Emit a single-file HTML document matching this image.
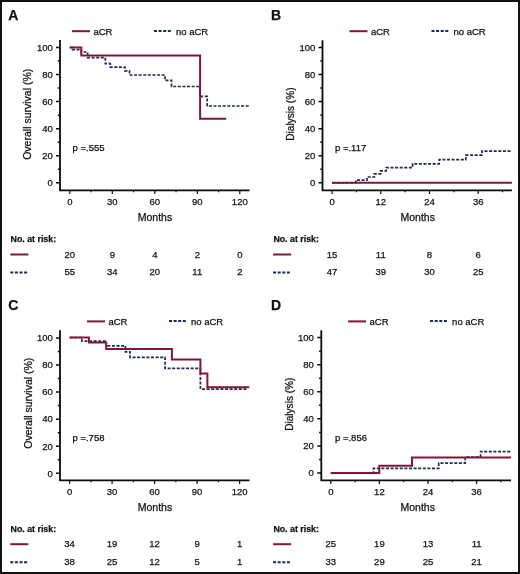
<!DOCTYPE html>
<html><head><meta charset="utf-8"><style>
html,body{margin:0;padding:0;background:#fff;}
body{width:520px;height:574px;overflow:hidden;}
svg{display:block;will-change:transform;}
text{font-family:"Liberation Sans",sans-serif;fill:#111;stroke:#111;stroke-width:0.25px;}
.t{font-size:9.5px;}
.at{font-size:10.5px;}
.pl{font-size:14px;font-weight:bold;fill:#111;}
.nb{font-size:8.8px;font-weight:bold;fill:#111;}
</style></head><body>
<svg width="520" height="574" viewBox="0 0 520 574">
<rect x="0" y="0" width="520" height="574" fill="#fff"/>
<rect x="1" y="1" width="518" height="572" fill="none" stroke="#111" stroke-width="2"/>
<path d="M60,40V190.3H249.5" fill="none" stroke="#0a0a0a" stroke-width="1.8"/>
<path d="M56,182.85H60M57.8,169.31H60M56,155.77H60M57.8,142.23H60M56,128.69H60M57.8,115.15H60M56,101.61H60M57.8,88.07H60M56,74.53H60M57.8,60.99H60M56,47.45H60" stroke="#0a0a0a" stroke-width="1.5"/>
<text x="52.9" y="186.15" text-anchor="end" class="t">0</text>
<text x="52.9" y="159.07" text-anchor="end" class="t">20</text>
<text x="52.9" y="131.99" text-anchor="end" class="t">40</text>
<text x="52.9" y="104.91" text-anchor="end" class="t">60</text>
<text x="52.9" y="77.83" text-anchor="end" class="t">80</text>
<text x="52.9" y="50.75" text-anchor="end" class="t">100</text>
<path d="M69.8,190.3V193.9M91.05,190.3V192.3M112.3,190.3V193.9M133.55,190.3V192.3M154.8,190.3V193.9M176.05,190.3V192.3M197.3,190.3V193.9M218.55,190.3V192.3M239.8,190.3V193.9" stroke="#0a0a0a" stroke-width="1.2"/>
<text x="69.8" y="205.3" text-anchor="middle" class="t">0</text>
<text x="112.3" y="205.3" text-anchor="middle" class="t">30</text>
<text x="154.8" y="205.3" text-anchor="middle" class="t">60</text>
<text x="197.3" y="205.3" text-anchor="middle" class="t">90</text>
<text x="239.8" y="205.3" text-anchor="middle" class="t">120</text>
<text x="155" y="220.6" text-anchor="middle" class="at">Months</text>
<text transform="translate(31.2,114.3) rotate(-90)" text-anchor="middle" class="at" style="font-size:10.5px">Overall survival (%)</text>
<text x="8.2" y="19.6" class="pl">A</text>
<path d="M72,31.2h18" stroke="#80163a" stroke-width="2"/>
<text x="93.4" y="34.5" class="t">aCR</text>
<path d="M154,30.9h17.6" stroke="#1c2b55" stroke-width="2" stroke-dasharray="3 1.6"/>
<text x="176" y="34.5" class="t">no aCR</text>
<text x="72.6" y="150.7" class="t">p =.555</text>
<path d="M69.8,47.3H72.6V49.7H81.3V52H87.6V57.7H105.3V63.7H110.3V67.2H124.9V70.9H129.5V75H165.1V80.4H171.5V86.5H200V96.4H207.2V106H250" fill="none" stroke="#1c2b55" stroke-width="1.7" stroke-dasharray="3 1.6"/>
<path d="M69.8,47.4H81.3V55.5H200.1V118.8H226.2" fill="none" stroke="#80163a" stroke-width="2"/>
<text x="10.6" y="241.8" class="nb">No. at risk:</text>
<path d="M10.3,254.5h18" stroke="#80163a" stroke-width="2"/>
<path d="M10.3,272.6h17.6" stroke="#1c2b55" stroke-width="2" stroke-dasharray="3 1.6"/>
<text x="69.8" y="257.5" text-anchor="middle" class="t">20</text>
<text x="69.8" y="275.3" text-anchor="middle" class="t">55</text>
<text x="112.3" y="257.5" text-anchor="middle" class="t">9</text>
<text x="112.3" y="275.3" text-anchor="middle" class="t">34</text>
<text x="154.8" y="257.5" text-anchor="middle" class="t">4</text>
<text x="154.8" y="275.3" text-anchor="middle" class="t">20</text>
<text x="197.3" y="257.5" text-anchor="middle" class="t">2</text>
<text x="197.3" y="275.3" text-anchor="middle" class="t">11</text>
<text x="239.8" y="257.5" text-anchor="middle" class="t">0</text>
<text x="239.8" y="275.3" text-anchor="middle" class="t">2</text>
<path d="M322.5,40.3V190.3H511.9" fill="none" stroke="#0a0a0a" stroke-width="1.8"/>
<path d="M318.5,182.8H322.5M320.3,169.26H322.5M318.5,155.72H322.5M320.3,142.18H322.5M318.5,128.64H322.5M320.3,115.1H322.5M318.5,101.56H322.5M320.3,88.02H322.5M318.5,74.48H322.5M320.3,60.94H322.5M318.5,47.4H322.5" stroke="#0a0a0a" stroke-width="1.5"/>
<text x="315.3" y="186.1" text-anchor="end" class="t">0</text>
<text x="315.3" y="159.02" text-anchor="end" class="t">20</text>
<text x="315.3" y="131.94" text-anchor="end" class="t">40</text>
<text x="315.3" y="104.86" text-anchor="end" class="t">60</text>
<text x="315.3" y="77.78" text-anchor="end" class="t">80</text>
<text x="315.3" y="50.7" text-anchor="end" class="t">100</text>
<path d="M332.1,190.3V193.9M356.45,190.3V192.3M380.8,190.3V193.9M405.14,190.3V192.3M429.49,190.3V193.9M453.84,190.3V192.3M478.19,190.3V193.9M502.54,190.3V192.3" stroke="#0a0a0a" stroke-width="1.2"/>
<text x="332.1" y="205.3" text-anchor="middle" class="t">0</text>
<text x="380.8" y="205.3" text-anchor="middle" class="t">12</text>
<text x="429.49" y="205.3" text-anchor="middle" class="t">24</text>
<text x="478.19" y="205.3" text-anchor="middle" class="t">36</text>
<text x="417.7" y="220.6" text-anchor="middle" class="at">Months</text>
<text transform="translate(293.8,114.1) rotate(-90)" text-anchor="middle" class="at" style="font-size:10.1px">Dialysis (%)</text>
<text x="271" y="19.6" class="pl">B</text>
<path d="M349.5,31.2h18" stroke="#80163a" stroke-width="2"/>
<text x="370.9" y="34.5" class="t">aCR</text>
<path d="M431.5,30.9h17.6" stroke="#1c2b55" stroke-width="2" stroke-dasharray="3 1.6"/>
<text x="453.5" y="34.5" class="t">no aCR</text>
<text x="335" y="150.7" class="t">p =.117</text>
<path d="M332.1,182.8H355.8V180.1H367V177H374.3V173.9H380.5V170.8H386.2V167.6H412.6V163.8H439.2V159.7H465.8V155.2H481.9V151.2H511.9" fill="none" stroke="#1c2b55" stroke-width="1.7" stroke-dasharray="3 1.6"/>
<path d="M332.1,182.8H511.9" fill="none" stroke="#80163a" stroke-width="2"/>
<text x="273.4" y="241.8" class="nb">No. at risk:</text>
<path d="M273.1,254.5h18" stroke="#80163a" stroke-width="2"/>
<path d="M273.1,272.6h17.6" stroke="#1c2b55" stroke-width="2" stroke-dasharray="3 1.6"/>
<text x="332.1" y="257.5" text-anchor="middle" class="t">15</text>
<text x="332.1" y="275.3" text-anchor="middle" class="t">47</text>
<text x="380.8" y="257.5" text-anchor="middle" class="t">11</text>
<text x="380.8" y="275.3" text-anchor="middle" class="t">39</text>
<text x="429.49" y="257.5" text-anchor="middle" class="t">8</text>
<text x="429.49" y="275.3" text-anchor="middle" class="t">30</text>
<text x="478.19" y="257.5" text-anchor="middle" class="t">6</text>
<text x="478.19" y="275.3" text-anchor="middle" class="t">25</text>
<path d="M60,330.3V480.3H249.5" fill="none" stroke="#0a0a0a" stroke-width="1.8"/>
<path d="M56,473.3H60M57.8,459.76H60M56,446.22H60M57.8,432.68H60M56,419.14H60M57.8,405.6H60M56,392.06H60M57.8,378.52H60M56,364.98H60M57.8,351.44H60M56,337.9H60" stroke="#0a0a0a" stroke-width="1.5"/>
<text x="52.9" y="476.6" text-anchor="end" class="t">0</text>
<text x="52.9" y="449.52" text-anchor="end" class="t">20</text>
<text x="52.9" y="422.44" text-anchor="end" class="t">40</text>
<text x="52.9" y="395.36" text-anchor="end" class="t">60</text>
<text x="52.9" y="368.28" text-anchor="end" class="t">80</text>
<text x="52.9" y="341.2" text-anchor="end" class="t">100</text>
<path d="M69.6,480.3V483.9M90.85,480.3V482.3M112.1,480.3V483.9M133.35,480.3V482.3M154.6,480.3V483.9M175.85,480.3V482.3M197.1,480.3V483.9M218.35,480.3V482.3M239.6,480.3V483.9" stroke="#0a0a0a" stroke-width="1.2"/>
<text x="69.6" y="495.3" text-anchor="middle" class="t">0</text>
<text x="112.1" y="495.3" text-anchor="middle" class="t">30</text>
<text x="154.6" y="495.3" text-anchor="middle" class="t">60</text>
<text x="197.1" y="495.3" text-anchor="middle" class="t">90</text>
<text x="239.6" y="495.3" text-anchor="middle" class="t">120</text>
<text x="155" y="510.6" text-anchor="middle" class="at">Months</text>
<text transform="translate(31.6,403.2) rotate(-90)" text-anchor="middle" class="at" style="font-size:10.5px">Overall survival (%)</text>
<text x="8.2" y="310.2" class="pl">C</text>
<path d="M87,321.4h18" stroke="#80163a" stroke-width="2"/>
<text x="108.4" y="324.7" class="t">aCR</text>
<path d="M169,321.1h17.6" stroke="#1c2b55" stroke-width="2" stroke-dasharray="3 1.6"/>
<text x="191" y="324.7" class="t">no aCR</text>
<text x="72.5" y="441" class="t">p =.758</text>
<path d="M69.6,337.5H81.8V341.1H106.2V345.8H125.4V351.8H130V357.3H165V368.3H200.4V389.1H247" fill="none" stroke="#1c2b55" stroke-width="1.7" stroke-dasharray="3 1.6"/>
<path d="M69.6,337.5H88.9V342.5H106.2V348.9H171.9V359.4H200.4V373.5H207.4V387.2H249.3" fill="none" stroke="#80163a" stroke-width="2"/>
<text x="10.6" y="531.5" class="nb">No. at risk:</text>
<path d="M10.3,544.2h18" stroke="#80163a" stroke-width="2"/>
<path d="M10.3,562.3h17.6" stroke="#1c2b55" stroke-width="2" stroke-dasharray="3 1.6"/>
<text x="69.6" y="547.2" text-anchor="middle" class="t">34</text>
<text x="69.6" y="565" text-anchor="middle" class="t">38</text>
<text x="112.1" y="547.2" text-anchor="middle" class="t">19</text>
<text x="112.1" y="565" text-anchor="middle" class="t">25</text>
<text x="154.6" y="547.2" text-anchor="middle" class="t">12</text>
<text x="154.6" y="565" text-anchor="middle" class="t">12</text>
<text x="197.1" y="547.2" text-anchor="middle" class="t">9</text>
<text x="197.1" y="565" text-anchor="middle" class="t">5</text>
<text x="239.6" y="547.2" text-anchor="middle" class="t">1</text>
<text x="239.6" y="565" text-anchor="middle" class="t">1</text>
<path d="M321.3,330.3V480.3H511" fill="none" stroke="#0a0a0a" stroke-width="1.8"/>
<path d="M317.3,473H321.3M319.1,459.46H321.3M317.3,445.92H321.3M319.1,432.38H321.3M317.3,418.84H321.3M319.1,405.3H321.3M317.3,391.76H321.3M319.1,378.22H321.3M317.3,364.68H321.3M319.1,351.14H321.3M317.3,337.6H321.3" stroke="#0a0a0a" stroke-width="1.5"/>
<text x="313.8" y="476.3" text-anchor="end" class="t">0</text>
<text x="313.8" y="449.22" text-anchor="end" class="t">20</text>
<text x="313.8" y="422.14" text-anchor="end" class="t">40</text>
<text x="313.8" y="395.06" text-anchor="end" class="t">60</text>
<text x="313.8" y="367.98" text-anchor="end" class="t">80</text>
<text x="313.8" y="340.9" text-anchor="end" class="t">100</text>
<path d="M330.8,480.3V483.9M355.1,480.3V482.3M379.4,480.3V483.9M403.7,480.3V482.3M428,480.3V483.9M452.3,480.3V482.3M476.6,480.3V483.9M500.9,480.3V482.3" stroke="#0a0a0a" stroke-width="1.2"/>
<text x="330.8" y="495.3" text-anchor="middle" class="t">0</text>
<text x="379.4" y="495.3" text-anchor="middle" class="t">12</text>
<text x="428" y="495.3" text-anchor="middle" class="t">24</text>
<text x="476.6" y="495.3" text-anchor="middle" class="t">36</text>
<text x="417.7" y="510.6" text-anchor="middle" class="at">Months</text>
<text transform="translate(292.6,404.2) rotate(-90)" text-anchor="middle" class="at" style="font-size:10.1px">Dialysis (%)</text>
<text x="271" y="309.8" class="pl">D</text>
<path d="M348.1,321.4h18" stroke="#80163a" stroke-width="2"/>
<text x="369.5" y="324.7" class="t">aCR</text>
<path d="M430.1,321.1h17.6" stroke="#1c2b55" stroke-width="2" stroke-dasharray="3 1.6"/>
<text x="452.1" y="324.7" class="t">no aCR</text>
<text x="335" y="440.7" class="t">p =.856</text>
<path d="M330.8,473H373.5V468.4H438.7V463.1H465.2V457H480.6V451.6H510.5" fill="none" stroke="#1c2b55" stroke-width="1.7" stroke-dasharray="3 1.6"/>
<path d="M330.8,473H379.3V465.7H412V457.6H511" fill="none" stroke="#80163a" stroke-width="2"/>
<text x="273.4" y="531.5" class="nb">No. at risk:</text>
<path d="M273.1,544.2h18" stroke="#80163a" stroke-width="2"/>
<path d="M273.1,562.3h17.6" stroke="#1c2b55" stroke-width="2" stroke-dasharray="3 1.6"/>
<text x="330.8" y="547.2" text-anchor="middle" class="t">25</text>
<text x="330.8" y="565" text-anchor="middle" class="t">33</text>
<text x="379.4" y="547.2" text-anchor="middle" class="t">19</text>
<text x="379.4" y="565" text-anchor="middle" class="t">29</text>
<text x="428" y="547.2" text-anchor="middle" class="t">13</text>
<text x="428" y="565" text-anchor="middle" class="t">25</text>
<text x="476.6" y="547.2" text-anchor="middle" class="t">11</text>
<text x="476.6" y="565" text-anchor="middle" class="t">21</text>
</svg>
</body></html>
